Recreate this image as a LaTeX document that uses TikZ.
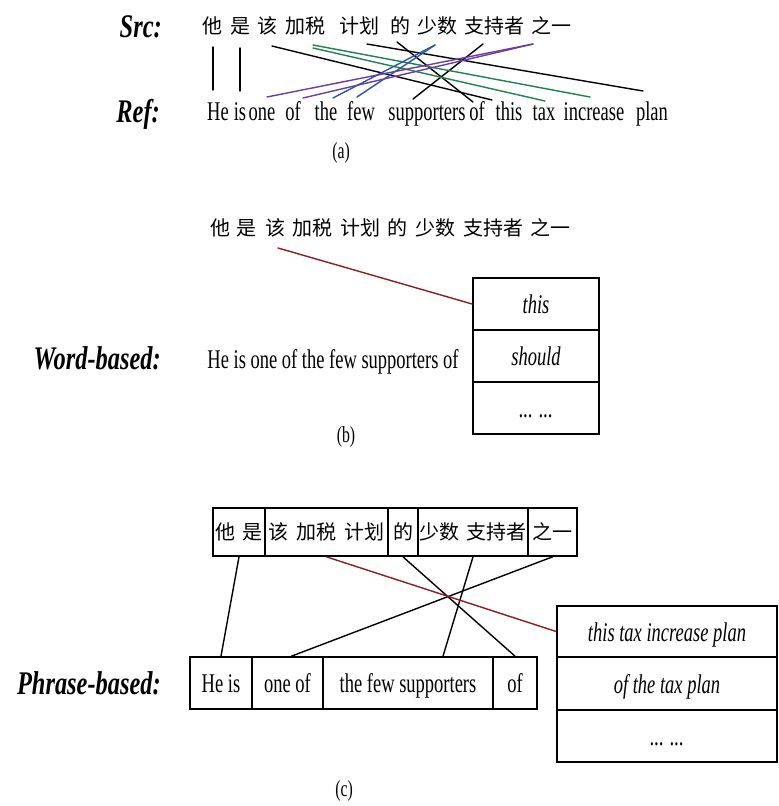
\documentclass[tikz,border=0pt]{standalone}
\usepackage{fontspec}
\setmainfont{Liberation Serif}[FakeStretch=0.685]
\newfontfamily\lblfam{Liberation Serif}[FakeStretch=0.74]
\newfontfamily\zhfam{Noto Sans CJK SC}
\usetikzlibrary{calc}
\definecolor{algreen}{RGB}{30,130,80}
\definecolor{alblue}{RGB}{40,90,160}
\definecolor{alpurple}{RGB}{110,60,160}
\definecolor{alred}{RGB}{140,30,30}
\newcommand\enfont{\fontsize{27}{32}\selectfont}
\newcommand\lblfont{\lblfam\fontsize{33}{40}\selectfont\bfseries\itshape}
\newcommand\capfont{\fontsize{23}{27}\selectfont}
\newcommand\zhfont{\zhfam\fontsize{20}{24}\selectfont}
\newcommand\zs{\hspace{0.4em}}
\begin{document}
\begin{tikzpicture}[x=1pt,y=-1pt,
  lbl/.style={font=\lblfont, anchor=base east, inner sep=0},
  en/.style={font=\enfont, anchor=base, inner sep=0},
  zh/.style={font=\zhfont, inner sep=0},
  captxt/.style={font=\capfont, inner sep=0},
  cellbox/.style={draw, line width=1.7pt, inner sep=0, font=\enfont,
     text height=19.5pt, text depth=0pt},
  zhcell/.style={draw, line width=1.7pt, inner sep=0, font=\zhfont,
     minimum height=48pt},
  link/.style={line width=1.4pt, line cap=round},
  redlink/.style={link, alred}]
\fill[white] (0,0) rectangle (779,806);
\useasboundingbox (0,0) rectangle (779,806);

% ---------------- (a) ----------------
\node[lbl] (srclbl) at (162,37) {Src:};
\node[lbl] (reflbl) at (160,122) {Ref:};
\foreach \n/\x/\t in {1/212/他,2/240/是,3/267/该,4/305/加税,5/359/计划,6/400/的,7/437/少数,8/494/支持者,9/551/之一}
  \node[zh] (sa\n) at (\x,26) {\t};
\foreach \n/\x/\t in {1/218/He,2/240/is,3/262/one,4/293/of,5/326/the,6/361/few,7/427/supporters,8/477/of,9/509/this,10/544/tax,11/594/increase,12/652/plan}
  \node[en] (ra\n) at (\x,120) {\t};
\node[captxt] (capa) at (341,153) {(a)};

\coordinate (a1s) at (213,47);  \coordinate (a1e) at (213,90);
\coordinate (a2s) at (240,48);  \coordinate (a2e) at (240,91);
\coordinate (a3s) at (272,46);  \coordinate (a3e) at (492,100);
\coordinate (a4s) at (313,45);  \coordinate (a4e) at (590,97);
\coordinate (a4t) at (313,48);  \coordinate (a4f) at (545,101);
\coordinate (a5s) at (367,44);  \coordinate (a5e) at (643,91);
\coordinate (a6s) at (397,42);  \coordinate (a6e) at (473,102);
\coordinate (a8s) at (483,44);  \coordinate (a8e) at (413,99);
\coordinate (a7s) at (435,45);  \coordinate (a7e) at (333,98);
\coordinate (a7f) at (357,97);
\coordinate (a9s) at (533,44);  \coordinate (a9e) at (267,97);
\coordinate (a9f) at (303,98);

\draw[link] (a1s) -- (a1e);
\draw[link] (a2s) -- (a2e);
\draw[link] (a3s) -- (a3e);
\draw[link] (a5s) -- (a5e);
\draw[link] (a6s) -- (a6e);
\draw[link] (a8s) -- (a8e);
\draw[link, algreen] (a4s) -- (a4e);
\draw[link, algreen] (a4t) -- (a4f);
\draw[link, alblue] (a7s) -- (a7e);
\draw[link, alblue] (a7s) -- (a7f);
\draw[link, alpurple] (a9s) -- (a9e);
\draw[link, alpurple] (a9s) -- (a9f);

% ---------------- (b) ----------------
\foreach \n/\x/\t in {1/220/他,2/246/是,3/275/该,4/312/加税,5/360/计划,6/397/的,7/435/少数,8/493/支持者,9/550/之一}
  \node[zh] (sb\n) at (\x,228) {\t};
\node[lbl] (wordlbl) at (161,369) {Word-based:};
\node[en] (bsent) at (333,368) {He is one of the few supporters of};
\node[cellbox, minimum width=126pt, minimum height=52pt] (bc1) at (536,304) {\itshape this};
\node[cellbox, minimum width=126pt, minimum height=52pt] (bc2) at (536,356) {\itshape should};
\node[cellbox, minimum width=126pt, minimum height=52pt] (bc3) at (536,408) {\itshape ... ...};
\coordinate (b1s) at (278,248);
\draw[redlink] (b1s) -- (bc1.west);
\node[captxt] (capb) at (346,437) {(b)};

% ---------------- (c) ----------------
\node[zhcell, minimum width=52pt] (cc1) at (239,532) {他\zs 是};
\node[zhcell, minimum width=123pt] (cc2) at (326.5,532) {该\zs 加税\zs 计划};
\node[zhcell, minimum width=30pt] (cc3) at (403,532) {的};
\node[zhcell, minimum width=110pt] (cc4) at (473,532) {少数\zs 支持者};
\node[zhcell, minimum width=49pt] (cc5) at (552.5,532) {之一};

\node[lbl] (phrlbl) at (161,694) {Phrase-based:};
\node[cellbox, minimum width=62pt, minimum height=52pt] (ce1) at (221,683) {He is};
\node[cellbox, minimum width=71pt, minimum height=52pt] (ce2) at (287.5,683) {one of};
\node[cellbox, minimum width=170pt, minimum height=52pt] (ce3) at (408,683) {the few supporters};
\node[cellbox, minimum width=44pt, minimum height=52pt] (ce4) at (515,683) {of};

\node[cellbox, minimum width=220pt, minimum height=51pt] (cr1) at (667,631.5) {\itshape this tax increase plan};
\node[cellbox, minimum width=220pt, minimum height=53pt] (cr2) at (667,683.5) {\itshape of the tax plan};
\node[cellbox, minimum width=220pt, minimum height=52pt] (cr3) at (667,736) {\itshape ... ...};

\draw[link] (cc1.south) -- (ce1.north);
\draw[link] (cc5.south) -- ([xshift=4pt]ce2.north);
\draw[link] (cc3.south) -- (ce4.north);
\draw[link] (cc4.south) -- ([xshift=35pt]ce3.north);
\draw[redlink] (cc2.south) -- (cr1.west);
\node[captxt] (capc) at (344,791) {(c)};
\end{tikzpicture}
\end{document}
